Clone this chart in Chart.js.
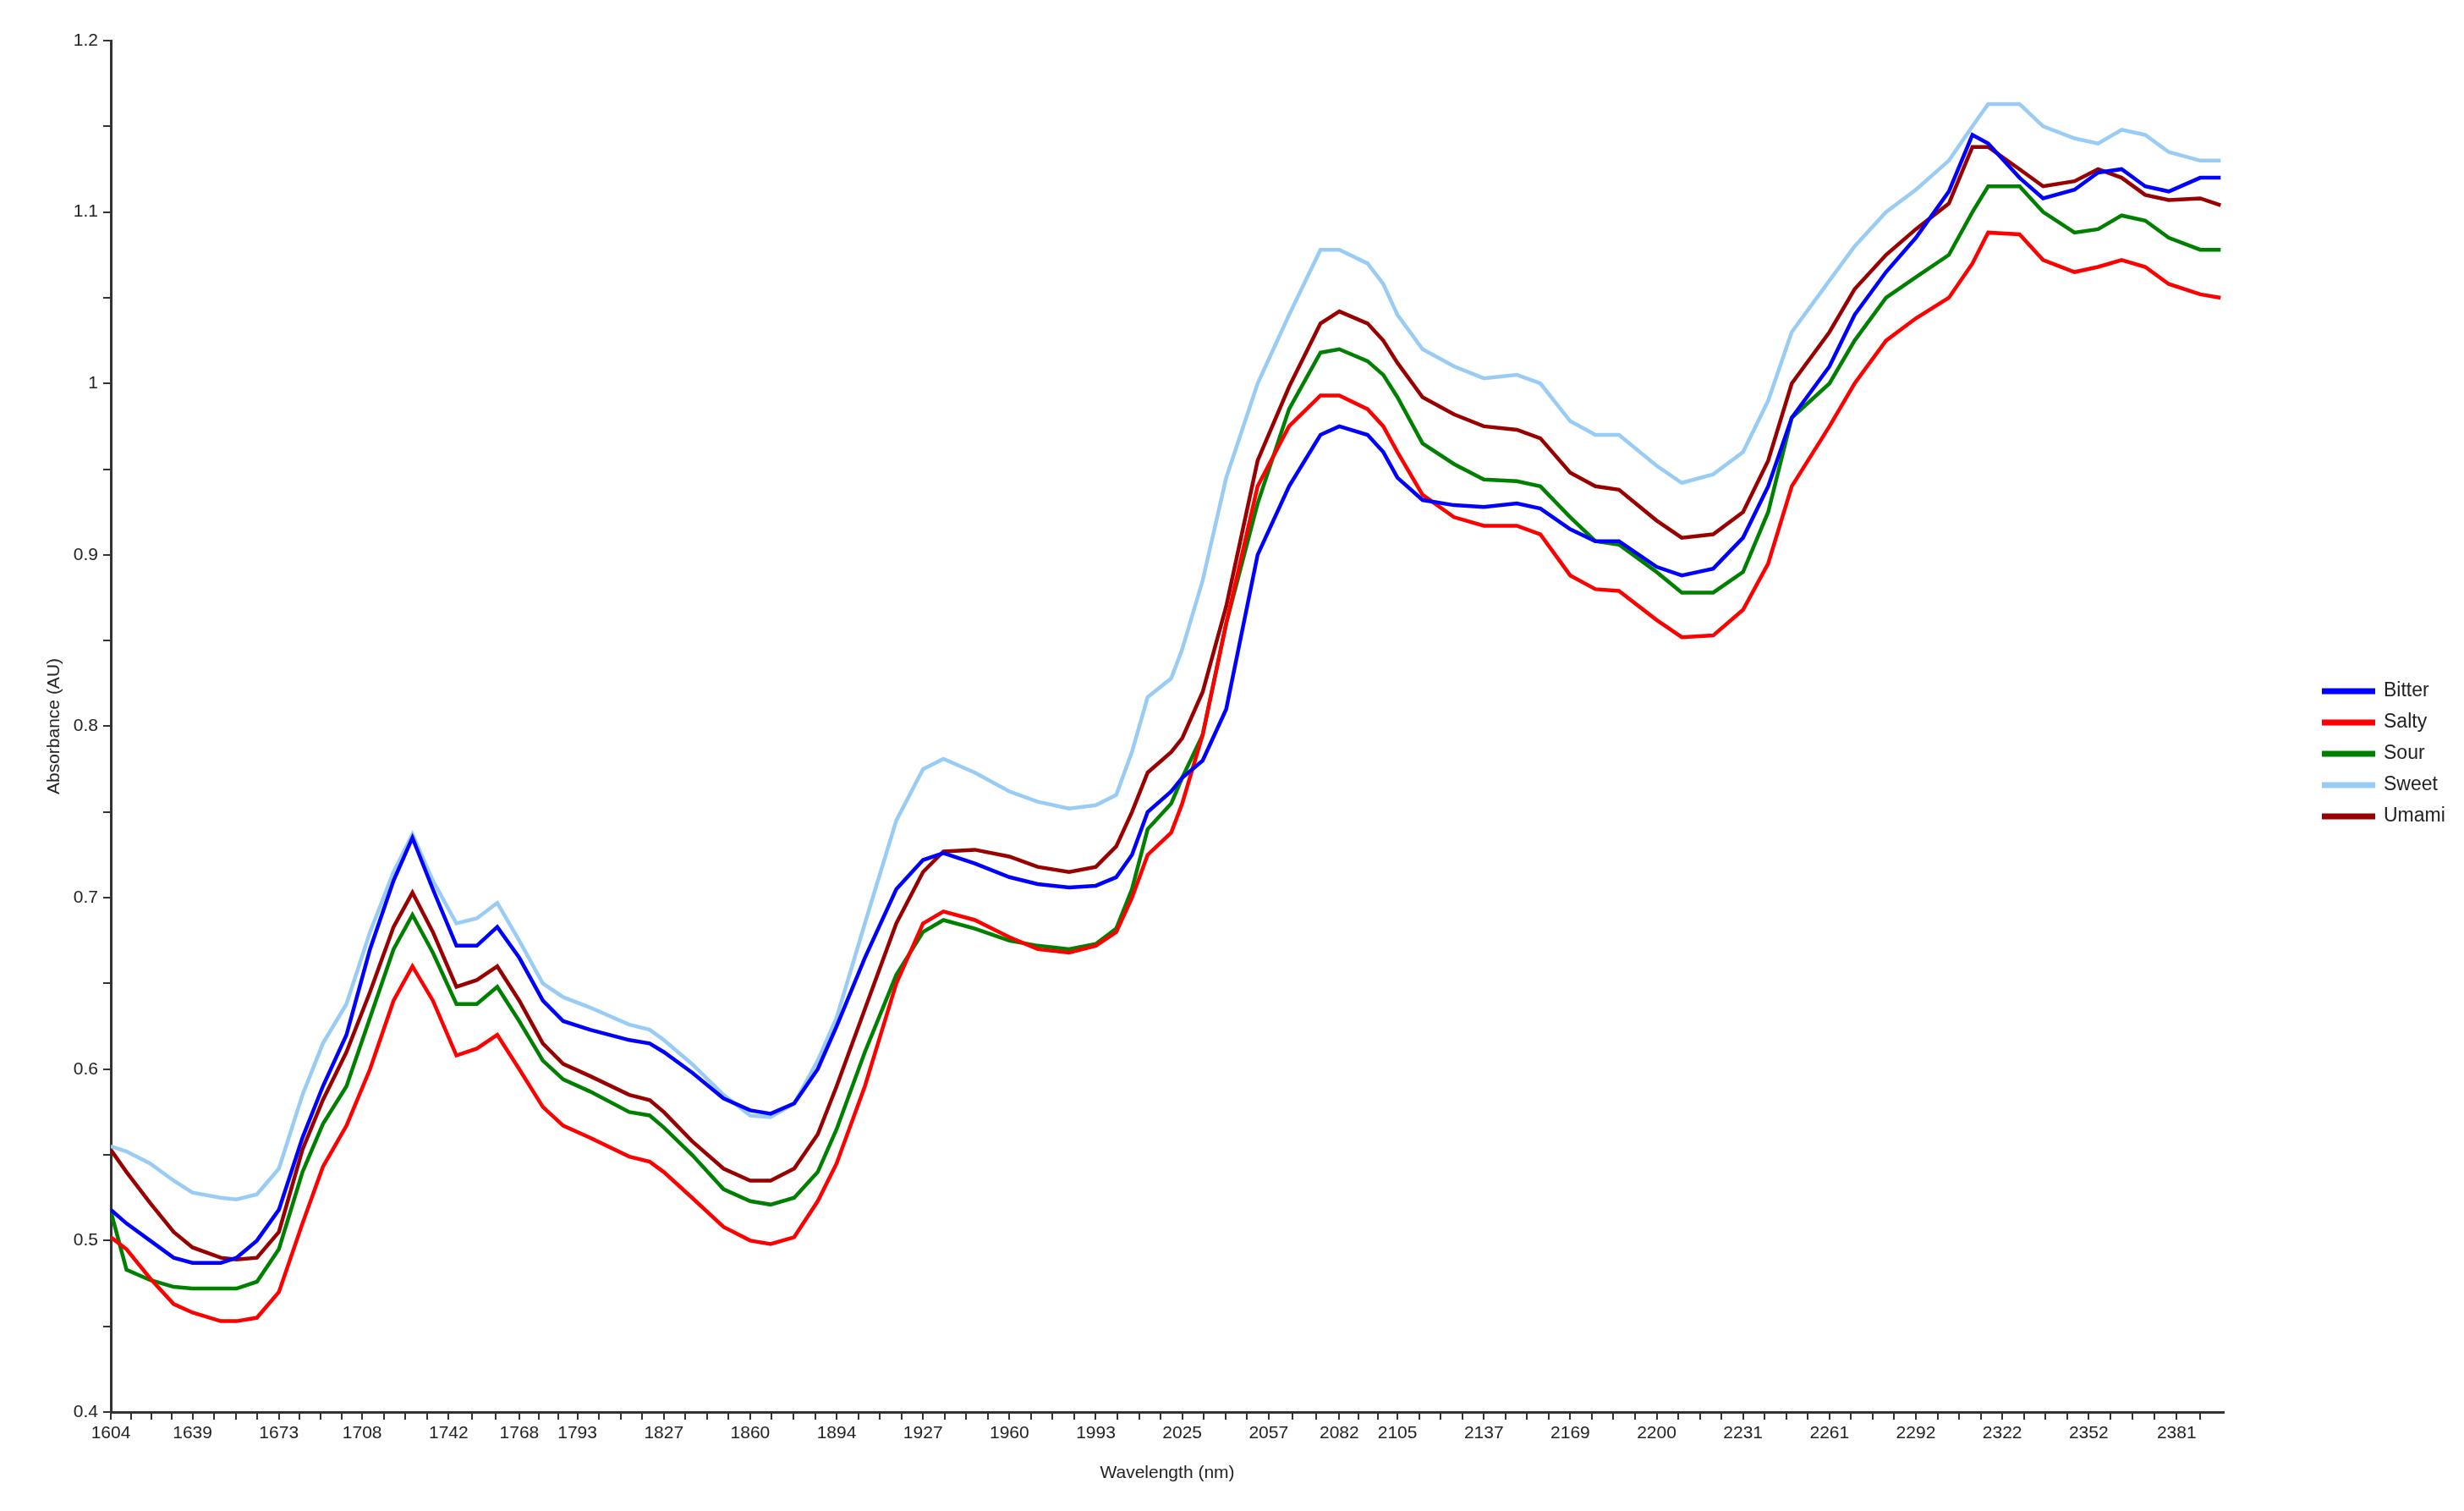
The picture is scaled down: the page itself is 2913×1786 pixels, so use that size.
<!DOCTYPE html>
<html><head><meta charset="utf-8">
<script src="https://cdn.jsdelivr.net/npm/chart.js@4"></script>
<style>html,body{margin:0;padding:0;background:#fff}#w{width:2913px;height:1786px}</style>
</head><body><div id="w"><canvas id="c"></canvas></div>
<script>
// channel positions (instrument channel scale, 0 = 1604 nm)
const channel = [0,10,25,40,52,70,80,93,107,122,135,150,165,180,192,205,220,233,246,260,275,288,305,330,343,352,370,390,407,420,435,450,462,480,500,517,530,550,572,590,610,627,640,650,660,675,682,695,710,730,750,770,782,800,810,819,835,855,874,895,910,929,945,960,984,1000,1020,1039,1055,1070,1094,1110,1130,1149,1170,1185,1195,1215,1230,1250,1265,1280,1295,1310,1330,1343];
const bitter = [0.518,0.51,0.5,0.49,0.487,0.487,0.49,0.5,0.518,0.56,0.59,0.62,0.67,0.71,0.735,0.705,0.672,0.672,0.683,0.665,0.64,0.628,0.623,0.617,0.615,0.61,0.598,0.583,0.576,0.574,0.58,0.6,0.625,0.665,0.705,0.722,0.726,0.72,0.712,0.708,0.706,0.707,0.712,0.725,0.75,0.762,0.77,0.78,0.81,0.9,0.94,0.97,0.975,0.97,0.96,0.945,0.932,0.929,0.928,0.93,0.927,0.915,0.908,0.908,0.893,0.888,0.892,0.91,0.94,0.98,1.01,1.04,1.065,1.085,1.112,1.145,1.14,1.12,1.108,1.113,1.123,1.125,1.115,1.112,1.12,1.12];
const salty = [0.502,0.495,0.478,0.463,0.458,0.453,0.453,0.455,0.47,0.51,0.543,0.567,0.6,0.64,0.66,0.64,0.608,0.612,0.62,0.6,0.578,0.567,0.56,0.549,0.546,0.54,0.525,0.508,0.5,0.498,0.502,0.523,0.545,0.59,0.65,0.685,0.692,0.687,0.677,0.67,0.668,0.672,0.68,0.7,0.725,0.738,0.755,0.795,0.86,0.94,0.975,0.993,0.993,0.985,0.975,0.96,0.935,0.922,0.917,0.917,0.912,0.888,0.88,0.879,0.862,0.852,0.853,0.868,0.895,0.94,0.975,1.0,1.025,1.038,1.05,1.07,1.088,1.087,1.072,1.065,1.068,1.072,1.068,1.058,1.052,1.05];
const sour = [0.517,0.483,0.477,0.473,0.472,0.472,0.472,0.476,0.495,0.54,0.568,0.59,0.63,0.67,0.69,0.668,0.638,0.638,0.648,0.628,0.605,0.594,0.587,0.575,0.573,0.566,0.55,0.53,0.523,0.521,0.525,0.54,0.565,0.61,0.655,0.68,0.687,0.682,0.675,0.672,0.67,0.673,0.682,0.705,0.74,0.755,0.77,0.795,0.86,0.93,0.985,1.018,1.02,1.013,1.005,0.992,0.965,0.953,0.944,0.943,0.94,0.922,0.908,0.906,0.89,0.878,0.878,0.89,0.925,0.98,1.0,1.025,1.05,1.062,1.075,1.1,1.115,1.115,1.1,1.088,1.09,1.098,1.095,1.085,1.078,1.078];
const sweet = [0.555,0.552,0.545,0.535,0.528,0.525,0.524,0.527,0.542,0.585,0.615,0.638,0.68,0.715,0.737,0.71,0.685,0.688,0.697,0.675,0.65,0.642,0.636,0.626,0.623,0.617,0.603,0.585,0.573,0.572,0.58,0.605,0.63,0.685,0.745,0.775,0.781,0.773,0.762,0.756,0.752,0.754,0.76,0.785,0.817,0.828,0.845,0.885,0.945,1.0,1.04,1.078,1.078,1.07,1.058,1.04,1.02,1.01,1.003,1.005,1.0,0.978,0.97,0.97,0.952,0.942,0.947,0.96,0.99,1.03,1.06,1.08,1.1,1.113,1.13,1.15,1.163,1.163,1.15,1.143,1.14,1.148,1.145,1.135,1.13,1.13];
const umami = [0.553,0.54,0.522,0.505,0.496,0.49,0.489,0.49,0.505,0.553,0.582,0.61,0.645,0.683,0.703,0.68,0.648,0.652,0.66,0.64,0.615,0.603,0.596,0.585,0.582,0.575,0.558,0.542,0.535,0.535,0.542,0.562,0.59,0.635,0.685,0.715,0.727,0.728,0.724,0.718,0.715,0.718,0.73,0.75,0.773,0.785,0.793,0.82,0.87,0.955,0.998,1.035,1.042,1.035,1.025,1.012,0.992,0.982,0.975,0.973,0.968,0.948,0.94,0.938,0.92,0.91,0.912,0.925,0.955,1.0,1.03,1.055,1.075,1.09,1.105,1.138,1.138,1.125,1.115,1.118,1.125,1.12,1.11,1.107,1.108,1.104];
const tickLabels = ['1604','1639','1673','1708','1742','1768','1793','1827','1860','1894','1927','1960','1993','2025','2057','2082','2105','2137','2169','2200','2231','2261','2292','2322','2352','2381'];
const tickChannels = [0,52,107,160,215,260,297,352,407,462,517,572,627,682,737,782,819,874,929,984,1039,1094,1149,1204,1259,1315];
const seriesNames = ['Bitter','Salty','Sour','Sweet','Umami'];
const seriesColors = ['#0000ff','#ff0000','#008000','#99ccf5','#990000'];
const seriesValues = [bitter,salty,sour,sweet,umami];

const FONT = 'Liberation Sans';
const datasets = seriesNames.map((n,i)=>({
  label:n,
  data: channel.map((c,j)=>({x:c,y:seriesValues[i][j]})),
  borderColor:seriesColors[i], backgroundColor:seriesColors[i],
  borderWidth:4.5, pointRadius:0, tension:0
}));

const legendPlugin = {
  id:'customLegend',
  afterDraw(chart){
    const ctx = chart.ctx;
    ctx.save();
    ctx.font = '23px "'+FONT+'"';
    ctx.textBaseline='middle';
    seriesNames.forEach((n,i)=>{
      const y = 817 + i*37;
      ctx.strokeStyle = seriesColors[i]; ctx.lineWidth = 7;
      ctx.beginPath(); ctx.moveTo(2745,y); ctx.lineTo(2808,y); ctx.stroke();
      ctx.fillStyle='#222'; ctx.fillText(n,2818,y);
    });
    ctx.restore();
  }
};

new Chart(document.getElementById('c'),{
  type:'line',
  data:{datasets},
  plugins:[legendPlugin],
  options:{
    responsive:true, maintainAspectRatio:false, animation:false,
    layout:{padding:{left:0,right:284,top:48,bottom:0}},
    plugins:{legend:{display:false},tooltip:{enabled:false}},
    scales:{
      x:{type:'linear',min:0,max:1345,
        afterBuildTicks(s){
          const t=[];
          for(let i=0;i<tickChannels.length;i++){
            t.push({value:tickChannels[i],major:true});
            const nx = i<tickChannels.length-1?tickChannels[i+1]:1345;
            const n = Math.max(1,Math.round((nx-tickChannels[i])/13.75));
            for(let k=1;k<n;k++) t.push({value:tickChannels[i]+(nx-tickChannels[i])*k/n});
          }
          s.ticks=t;
        },
        afterFit(s){s.height=117;},
        border:{display:true,color:'#333',width:3},
        grid:{drawOnChartArea:false,color:'#333',tickLength:9,lineWidth:2},
        ticks:{autoSkip:false,maxRotation:0,color:'#222',font:{family:FONT,size:21},padding:4,
          callback(v){const i=tickChannels.indexOf(v);return i>=0?tickLabels[i]:'';}},
        title:{display:true,text:'Wavelength (nm)',color:'#222',font:{family:FONT,size:21},padding:{top:0,bottom:32}}
      },
      y:{min:0.4,max:1.2,
        afterBuildTicks(s){const t=[];for(let v=0.4;v<=1.2001;v+=0.05)t.push({value:Math.round(v*100)/100});s.ticks=t;},
        afterFit(s){s.width=131;},
        border:{display:true,color:'#333',width:3},
        grid:{drawOnChartArea:false,color:'#333',tickLength:9,lineWidth:2},
        ticks:{color:'#222',font:{family:FONT,size:21},padding:6,
          callback(v){const r=Math.round(v*100);return r%10===0?String(Math.round(v*10)/10):'';}},
        title:{display:true,text:'Absorbance (AU)',color:'#222',font:{family:FONT,size:21},padding:{top:52,bottom:4}}
      }
    }
  }
});
</script></body></html>
